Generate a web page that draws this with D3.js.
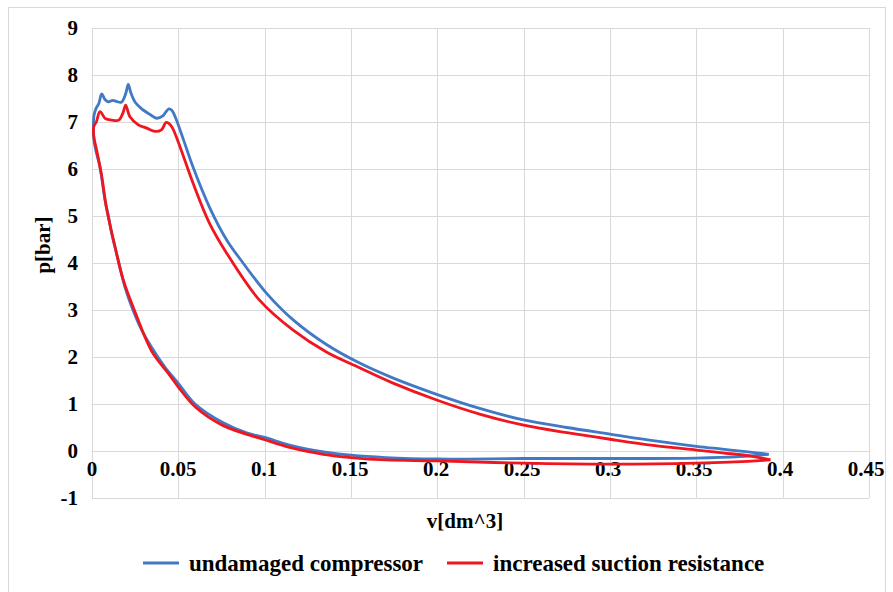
<!DOCTYPE html>
<html>
<head>
<meta charset="utf-8">
<script src="https://cdn.jsdelivr.net/npm/d3@7"></script>
<style>
  body { margin: 0; background: #fff; }
</style>
</head>
<body>
<svg id="chart" width="893" height="592" font-family="'Liberation Serif', 'DejaVu Serif', serif" font-weight="bold"></svg>
<script>
// p-V loop, [v dm^3, p bar], traced tip -> compression -> discharge -> expansion -> suction
const undamaged = [
  [0.392,-0.07],[0.38,-0.02],[0.365,0.04],[0.35,0.1],[0.325,0.22],[0.3,0.36],[0.275,0.5],
  [0.25,0.66],[0.225,0.9],[0.2,1.2],[0.1745,1.55],[0.155,1.87],[0.136,2.26],[0.1165,2.79],
  [0.101,3.36],[0.0875,4.0],[0.078,4.49],[0.068,5.19],[0.0585,6.04],[0.053,6.62],[0.0485,7.08],
  [0.0462,7.25],[0.0445,7.28],[0.0425,7.2],[0.041,7.13],[0.0375,7.08],[0.0336,7.16],[0.0288,7.28],
  [0.025,7.42],[0.0225,7.62],[0.021,7.8],[0.0195,7.6],[0.017,7.42],[0.014,7.44],[0.012,7.46],
  [0.0095,7.43],[0.0075,7.48],[0.0056,7.6],[0.004,7.4],[0.0025,7.3],[0.0012,7.15],[0.0008,6.9],
  [0.0012,6.6],[0.0025,6.35],[0.0046,6.05],[0.0075,5.34],[0.0095,5.0],[0.0114,4.63],[0.0152,4.06],
  [0.019,3.5],[0.023,3.07],[0.0288,2.57],[0.0346,2.2],[0.0385,1.98],[0.0423,1.78],[0.05,1.44],
  [0.0597,1.0],[0.076,0.6],[0.09,0.38],[0.1,0.29],[0.115,0.12],[0.134,-0.02],[0.15,-0.09],
  [0.17,-0.14],[0.2,-0.17],[0.25,-0.16],[0.3,-0.16],[0.35,-0.15],[0.375,-0.12],[0.392,-0.07]
];
const suctionResistance = [
  [0.393,-0.19],[0.38,-0.1],[0.365,-0.04],[0.35,0.02],[0.325,0.12],[0.3,0.25],[0.275,0.39],
  [0.25,0.55],[0.225,0.78],[0.2,1.08],[0.174,1.45],[0.155,1.77],[0.136,2.1],[0.1165,2.57],
  [0.097,3.21],[0.078,4.21],[0.068,4.85],[0.0585,5.7],[0.051,6.47],[0.0465,6.88],[0.0445,6.97],
  [0.0428,6.99],[0.0404,6.84],[0.0365,6.8],[0.0317,6.87],[0.0268,6.94],[0.022,7.11],[0.0195,7.36],
  [0.018,7.2],[0.0155,7.04],[0.0114,7.04],[0.0085,7.06],[0.0075,7.08],[0.0046,7.22],[0.0025,7.0],
  [0.001,6.9],[0.001,6.7],[0.0027,6.4],[0.0056,5.85],[0.0085,5.15],[0.0133,4.35],[0.018,3.65],
  [0.025,2.95],[0.0346,2.12],[0.0442,1.65],[0.05,1.36],[0.06,0.93],[0.076,0.54],[0.1,0.24],
  [0.115,0.07],[0.134,-0.07],[0.15,-0.14],[0.17,-0.19],[0.2,-0.21],[0.25,-0.26],[0.3,-0.28],
  [0.35,-0.26],[0.38,-0.22],[0.393,-0.19]
];
const xTicks = [0, 0.05, 0.1, 0.15, 0.2, 0.25, 0.3, 0.35, 0.4, 0.45];
const yTicks = [-1, 0, 1, 2, 3, 4, 5, 6, 7, 8, 9];
const seriesNames = ["undamaged compressor", "increased suction resistance"];
const colors = ["#4179c6", "#f0161f"];

const svg = d3.select("#chart");
const x = d3.scaleLinear().domain([0, 0.45]).range([92, 869]);
const y = d3.scaleLinear().domain([-1, 9]).range([498, 28]);
const fontSize = 21;

// chart frame
svg.append("rect")
  .attr("x", 8.5).attr("y", 7.5).attr("width", 877).attr("height", 600)
  .attr("fill", "none").attr("stroke", "#d9d9d9");

// gridlines
const grid = svg.append("g").attr("stroke", "#d9d9d9").attr("stroke-width", 1);
grid.selectAll(".h").data(yTicks).join("line")
  .attr("x1", x(0)).attr("x2", x(0.45))
  .attr("y1", d => Math.round(y(d)) + 0.5).attr("y2", d => Math.round(y(d)) + 0.5);
grid.selectAll(".v").data(xTicks).join("line")
  .attr("y1", y(9)).attr("y2", y(-1))
  .attr("x1", d => Math.round(x(d)) + 0.5).attr("x2", d => Math.round(x(d)) + 0.5);

// tick labels
svg.append("g").selectAll("text").data(yTicks).join("text")
  .attr("x", 78).attr("y", d => y(d)).attr("dy", "0.35em")
  .attr("text-anchor", "end").attr("font-size", fontSize)
  .text(d => d);
svg.append("g").selectAll("text").data(xTicks).join("text")
  .attr("x", d => x(d) - 3 * d / 0.45).attr("y", y(0) + 25)
  .attr("text-anchor", "middle").attr("font-size", fontSize)
  .text(d => d);

// axis titles
svg.append("text")
  .attr("transform", "translate(50,245) rotate(-90)")
  .attr("text-anchor", "middle").attr("font-size", fontSize)
  .text("p[bar]");
svg.append("text")
  .attr("x", 465).attr("y", 528)
  .attr("text-anchor", "middle").attr("font-size", fontSize)
  .text("v[dm^3]");

// curves
const line = d3.line()
  .x(d => x(d[0])).y(d => y(d[1]))
  .curve(d3.curveCatmullRom.alpha(0.5));
[undamaged, suctionResistance].forEach((s, i) => {
  svg.append("path")
    .attr("d", line(s))
    .attr("fill", "none")
    .attr("stroke", colors[i])
    .attr("stroke-width", 2.8)
    .attr("stroke-linejoin", "round");
});

// legend
const legendX = [143, 447];
const legend = svg.append("g");
seriesNames.forEach((name, i) => {
  legend.append("line")
    .attr("x1", legendX[i]).attr("x2", legendX[i] + 36)
    .attr("y1", 563).attr("y2", 563)
    .attr("stroke", colors[i]).attr("stroke-width", 2.8);
  legend.append("text")
    .attr("x", legendX[i] + 46).attr("y", 563).attr("dy", "0.33em")
    .attr("font-size", 23)
    .text(name);
});
</script>
</body>
</html>
